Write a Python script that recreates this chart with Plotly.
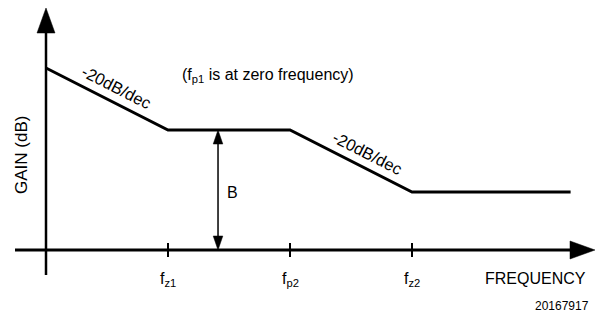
import math
import numpy as np
import plotly.graph_objects as go

# asymptotic gain curve: break points in decades from the origin, gain in dB
freq_dec = [0, 1, 2, 3, 4.3]
gain_db = [58.7, 38.7, 38.7, 18.7, 18.7]

# frequency axis marks
tick_dec = [1, 2, 3]
tick_labels = ["f<sub>z1</sub>", "f<sub>p2</sub>", "f<sub>z2</sub>"]

# slope labels (text, position along the curve in decades)
slope_text = ["-20dB/dec", "-20dB/dec"]
slope_dec = [0.52, 2.58]

# the "B" dimension arrow
b_dec = 1.41
b_gain = 38.7

note_text = "(f<sub>p1</sub> is at zero frequency)"
fig_id = "20167917"

W, H = 597, 320
X0, Y0 = 46, 250        # pixel position of the origin
PX_DEC, PX_DB = 122, 3.1
FONT = "Liberation Sans, Arial, sans-serif"


def dx(px):
    return (px - X0) / PX_DEC


def dy(py):
    return (Y0 - py) / PX_DB


def px(d):
    return X0 + d * PX_DEC


def py(g):
    return Y0 - g * PX_DB


def tri(tip, base, half):
    # filled triangle, given in pixels, returned as a data-coord path
    tx, ty = tip
    bx, by = base
    L = math.hypot(tx - bx, ty - by)
    nx, ny = -(ty - by) / L * half, (tx - bx) / L * half
    pts = [(tx, ty), (bx + nx, by + ny), (bx - nx, by - ny)]
    path = "M " + " L ".join(f"{dx(a)},{dy(b)}" for a, b in pts) + " Z"
    return dict(type="path", path=path, fillcolor="black",
                line=dict(color="black", width=0.5))


fig = go.Figure()

fig.add_trace(go.Scatter(x=freq_dec, y=gain_db, mode="lines",
                         line=dict(color="black", width=3),
                         hoverinfo="skip", showlegend=False))

shapes = []
# axes
shapes.append(dict(type="line", x0=dx(15), x1=dx(572), y0=0, y1=0,
                   line=dict(color="black", width=3)))
shapes.append(tri((595, Y0), (570, Y0), 9))
shapes.append(dict(type="line", x0=0, x1=0, y0=dy(275), y1=dy(31),
                   line=dict(color="black", width=2.5)))
shapes.append(tri((X0, 8), (X0, 33), 9))

# ticks
for t in tick_dec:
    shapes.append(dict(type="line", x0=t, x1=t, y0=dy(243), y1=dy(257),
                       line=dict(color="black", width=2)))

# B arrow
bx = px(b_dec)
shapes.append(dict(type="line", x0=b_dec, x1=b_dec, y0=dy(py(b_gain) + 10),
                   y1=dy(Y0 - 10), line=dict(color="black", width=1.5)))
shapes.append(tri((bx, py(b_gain)), (bx, py(b_gain) + 14), 4.8))
shapes.append(tri((bx, Y0), (bx, Y0 - 14), 4.8))

ann = []
for t, lab in zip(tick_dec, tick_labels):
    ann.append(dict(x=t, y=dy(279), text=lab, showarrow=False,
                    font=dict(size=16)))

ann.append(dict(x=dx(588), y=dy(278), text="FREQUENCY", showarrow=False,
                xanchor="right", font=dict(size=16)))
ann.append(dict(x=dx(591), y=dy(306), text=fig_id, showarrow=False,
                xanchor="right", font=dict(size=12)))
ann.append(dict(x=dx(21), y=dy(155), text="GAIN (dB)", showarrow=False,
                textangle=-90, font=dict(size=17)))
ann.append(dict(x=b_dec, y=b_gain / 2, text="B", showarrow=False,
                xshift=14, yshift=-2, font=dict(size=16)))
ann.append(dict(x=dx(268), y=dy(75), text=note_text, showarrow=False,
                font=dict(size=16)))

# slope labels, rotated along the falling segments
for txt, d in zip(slope_text, slope_dec):
    g = float(np.interp(d, freq_dec, gain_db))
    i = int(np.searchsorted(freq_dec, d)) - 1
    ang = math.atan2(py(gain_db[i + 1]) - py(gain_db[i]),
                     px(freq_dec[i + 1]) - px(freq_dec[i]))
    off = 15
    ann.append(dict(x=d, y=g, text=txt, showarrow=False,
                    textangle=math.degrees(ang),
                    xshift=math.sin(ang) * off, yshift=math.cos(ang) * off,
                    font=dict(size=16.5)))

fig.update_layout(
    width=W, height=H, autosize=False,
    margin=dict(l=0, r=0, t=0, b=0),
    paper_bgcolor="white", plot_bgcolor="white",
    font=dict(family=FONT, color="black"),
    xaxis=dict(range=[dx(0), dx(W)], visible=False, fixedrange=True),
    yaxis=dict(range=[dy(H), dy(0)], visible=False, fixedrange=True),
    shapes=shapes, annotations=ann,
)

fig.write_html("out.html", config={"displayModeBar": False},
               post_script="document.body.style.margin='0px';")
